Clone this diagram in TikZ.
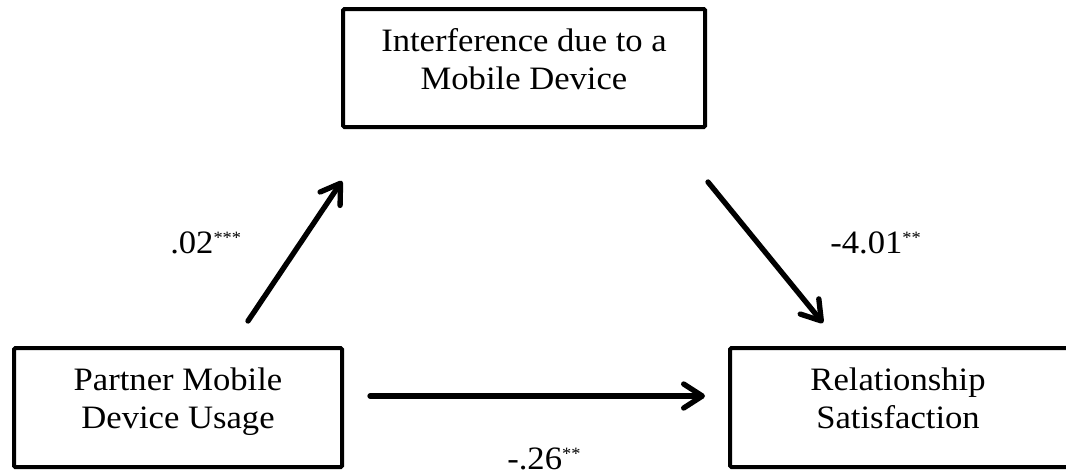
\documentclass[tikz,border=0pt]{standalone}
\usepackage{fontspec}
\setmainfont{Liberation Serif}[FakeStretch=1.06]
\usetikzlibrary{arrows.meta}
% significance stars, raised to the top of the digits
\newcommand{\sigstars}[1]{\raisebox{7pt}{\fontsize{13}{13}\selectfont #1}}
\begin{document}
\begin{tikzpicture}[x=0.75pt,y=-0.75pt,
  box/.style={draw, line width=3pt, rounded corners=1pt, inner sep=0pt},
  boxtext/.style={align=center, font=\fontsize{24.5}{28.5}\selectfont, inner sep=0pt},
  coef/.style={font=\fontsize{24.5}{28}\selectfont, inner sep=0pt, anchor=base west},
  link/.style={line width=4pt, line cap=round,
    -{Straight Barb[length=14pt,width=18pt,round]}}
]
\clip (0,0) rectangle (1066,475);
\useasboundingbox (0,0) rectangle (1066,475);

% variable boxes
\node[box, minimum width=271.5pt, minimum height=88.5pt] (med) at (524,68) {};
\node[box, minimum width=246pt, minimum height=89.25pt] (pred) at (178,407.5) {};
\node[box, minimum width=258.75pt, minimum height=89.25pt] (out) at (902.5,407.5) {};

% box labels
\node[boxtext] (medtxt) at (524,59.5) {Interference due to a\\Mobile Device};
\node[boxtext] (predtxt) at (178,402) {Partner Mobile\\Device Usage};
\node[boxtext] (outtxt) at (898,398.5) {Relationship\\Satisfaction};

% path end points
\coordinate (a1s) at (248,321);
\coordinate (a1e) at (342,181);
\coordinate (a2s) at (708,182);
\coordinate (a2e) at (823,323);
\coordinate (a3s) at (370,396);
\coordinate (a3e) at (705,396);

\draw[link] (a1s) -- (a1e);
\draw[link] (a2s) -- (a2e);
\draw[link] (a3s) -- (a3e);

% path coefficients
\node[coef] (c1) at (170,253) {.02\sigstars{***}};
\node[coef] (c2) at (830,253) {-4.01\sigstars{**}};
\node[coef] (c3) at (507,469) {-.26\sigstars{**}};
\end{tikzpicture}
\end{document}
